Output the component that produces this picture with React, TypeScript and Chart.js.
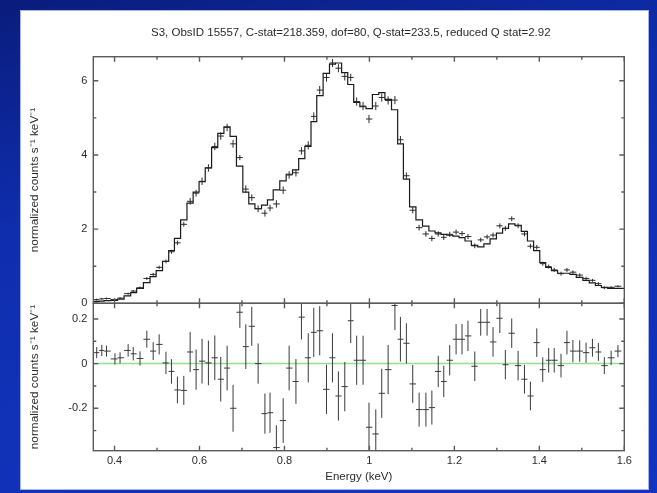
import React, { useEffect, useRef } from 'react';
import { Chart, registerables } from 'chart.js';

Chart.register(...registerables);

const TITLE = 'S3, ObsID 15557, C-stat=218.359, dof=80, Q-stat=233.5, reduced Q stat=2.92';
const Y_LABEL = 'normalized counts s\u207B\u00B9 keV\u207B\u00B9';
const X_LABEL = 'Energy (keV)';

// bin centres (keV)
const binEnergy = [
  0.358, 0.370, 0.381, 0.401, 0.413, 0.432, 0.444, 0.460, 0.476, 0.491,
  0.505, 0.521, 0.534, 0.548, 0.563, 0.578, 0.592, 0.606, 0.621, 0.636,
  0.650, 0.665, 0.679, 0.695, 0.709, 0.723, 0.738, 0.754, 0.766, 0.781,
  0.797, 0.811, 0.827, 0.840, 0.856, 0.869, 0.883, 0.899, 0.913, 0.927,
  0.942, 0.956, 0.970, 0.985, 0.999, 1.015, 1.029, 1.044, 1.060, 1.073,
  1.087, 1.102, 1.117, 1.133, 1.147, 1.162, 1.175, 1.189, 1.204, 1.218,
  1.232, 1.248, 1.262, 1.277, 1.291, 1.307, 1.320, 1.335, 1.350, 1.365,
  1.379, 1.394, 1.408, 1.422, 1.435, 1.451, 1.465, 1.479, 1.495, 1.510,
  1.525, 1.539, 1.553, 1.569, 1.585,
];

// folded model (step histogram)
const modelCounts = [
  0.05, 0.06, 0.07, 0.08, 0.11, 0.20, 0.29, 0.40, 0.56, 0.72,
  0.88, 1.13, 1.42, 1.75, 2.25, 2.70, 3.00, 3.28, 3.65, 4.20,
  4.58, 4.76, 4.50, 3.70, 3.00, 2.68, 2.55, 2.65, 2.79, 3.06,
  3.30, 3.48, 3.60, 3.90, 4.23, 4.90, 5.60, 6.20, 6.45, 6.48,
  6.22, 5.90, 5.42, 5.30, 5.25, 5.63, 5.68, 5.50, 5.22, 4.30,
  3.35, 2.60, 2.25, 2.08, 1.95, 1.90, 1.86, 1.84, 1.81, 1.77,
  1.68, 1.56, 1.52, 1.60, 1.74, 1.89, 2.02, 2.14, 2.10, 1.94,
  1.68, 1.42, 1.10, 0.97, 0.88, 0.81, 0.81, 0.78, 0.70, 0.62,
  0.55, 0.48, 0.43, 0.40, 0.40,
];

// observed data points
const dataCounts = [
  0.10, 0.12, 0.13, 0.10, 0.14, 0.26, 0.33, 0.42, 0.67, 0.78,
  0.97, 1.13, 1.39, 1.63, 2.13, 2.75, 2.97, 3.29, 3.65, 4.23,
  4.51, 4.74, 4.30, 3.93, 3.08, 2.85, 2.55, 2.43, 2.57, 2.68,
  3.05, 3.46, 3.52, 4.11, 4.26, 5.04, 5.75, 6.09, 6.48, 6.34,
  6.12, 6.09, 5.44, 5.32, 4.97, 5.32, 5.55, 5.47, 5.48, 4.41,
  3.44, 2.51, 2.04, 1.87, 1.75, 1.87, 1.78, 1.86, 1.92, 1.88,
  1.80, 1.55, 1.71, 1.79, 1.84, 2.09, 2.02, 2.28, 2.09, 1.87,
  1.54, 1.51, 1.07, 0.99, 0.90, 0.80, 0.90, 0.84, 0.76, 0.67,
  0.62, 0.53, 0.42, 0.43, 0.46,
];

// residuals (data - model)
const residuals = [
  0.049, 0.059, 0.056, 0.021, 0.026, 0.059, 0.044, 0.023, 0.109, 0.056,
  0.086, 0.003, -0.035, -0.118, -0.120, 0.052, -0.027, 0.011, 0.003, 0.026,
  -0.070, -0.020, -0.200, 0.230, 0.076, 0.167, 0.000, -0.224, -0.220, -0.376,
  -0.255, -0.020, -0.080, 0.208, 0.026, 0.140, 0.147, -0.115, 0.026, -0.145,
  -0.103, 0.192, 0.015, 0.015, -0.285, -0.315, -0.133, -0.027, 0.260, 0.109,
  0.091, -0.091, -0.206, -0.206, -0.197, -0.035, -0.080, 0.015, 0.109, 0.109,
  0.124, -0.012, 0.185, 0.185, 0.097, 0.203, -0.005, 0.136, -0.009, -0.070,
  -0.145, 0.094, -0.027, 0.015, 0.015, -0.009, 0.094, 0.056, 0.056, 0.049,
  0.071, 0.052, -0.009, 0.026, 0.056,
];

// 1-sigma errors
const errors = [
  0.025, 0.025, 0.025, 0.025, 0.025, 0.028, 0.030, 0.032, 0.038, 0.040,
  0.045, 0.050, 0.055, 0.060, 0.065, 0.090, 0.090, 0.100, 0.100, 0.100,
  0.100, 0.100, 0.105, 0.070, 0.100, 0.087, 0.090, 0.090, 0.090, 0.100,
  0.100, 0.100, 0.100, 0.100, 0.110, 0.110, 0.110, 0.110, 0.110, 0.110,
  0.110, 0.100, 0.110, 0.110, 0.110, 0.110, 0.110, 0.110, 0.110, 0.100,
  0.090, 0.085, 0.076, 0.076, 0.076, 0.070, 0.070, 0.068, 0.068, 0.068,
  0.068, 0.066, 0.060, 0.060, 0.066, 0.066, 0.066, 0.066, 0.066, 0.064,
  0.064, 0.064, 0.055, 0.055, 0.055, 0.053, 0.053, 0.050, 0.048, 0.045,
  0.040, 0.040, 0.038, 0.032, 0.027,
];

const xRange = [0.35, 1.6];
const specRange = [0, 6.65];
const resRange = [-0.39, 0.27];
const xTicks = [0.4, 0.6, 0.8, 1.0, 1.2, 1.4, 1.6];
const xMinorTicks = [0.5, 0.7, 0.9, 1.1, 1.3, 1.5];
const specTicks = [0, 2, 4, 6];
const specMinorTicks = [1, 3, 5];
const resTicks = [-0.2, 0, 0.2];
const resMinorTicks = [-0.3, -0.1, 0.1];

const FONT = "'Liberation Sans', Arial, sans-serif";
const TEXT = '#2b2b2b';
const FRAME = '#5a5a5a';

function crossSegments(xs: number[], ys: number[], errs: number[]) {
  const pts: { x: number; y: number | null }[] = [];
  const n = xs.length;
  for (let i = 0; i < n; i++) {
    const lo = i > 0 ? (xs[i] + xs[i - 1]) / 2 : xs[i] - (xs[i + 1] - xs[i]) / 2;
    const hi = i < n - 1 ? (xs[i] + xs[i + 1]) / 2 : xs[i] + (xs[i] - xs[i - 1]) / 2;
    pts.push({ x: xs[i], y: ys[i] - errs[i] });
    pts.push({ x: xs[i], y: ys[i] + errs[i] });
    pts.push({ x: xs[i], y: null });
    pts.push({ x: lo, y: ys[i] });
    pts.push({ x: hi, y: ys[i] });
    pts.push({ x: hi, y: null });
  }
  return pts;
}

const panelPlugin = {
  id: 'panels',
  beforeDatasetDraw(chart: any, args: any) {
    const meta = chart.getDatasetMeta(args.index);
    const ys = chart.scales[meta.yAxisID];
    const { left, right } = chart.chartArea;
    const ctx = chart.ctx;
    ctx.save();
    ctx.beginPath();
    ctx.rect(left, ys.top, right - left, ys.bottom - ys.top);
    ctx.clip();
  },
  afterDatasetDraw(chart: any) {
    chart.ctx.restore();
  },
  afterDraw(chart: any) {
    const ctx = chart.ctx;
    const xs = chart.scales.x;
    const panels: [string, number[], number[]][] = [
      ['ySpec', specTicks, specMinorTicks],
      ['yRes', resTicks, resMinorTicks],
    ];
    for (const [id, major, minor] of panels) {
      const ys = chart.scales[id];
      const l = xs.left, r = xs.right, t = ys.top, b = ys.bottom;
      ctx.save();
      ctx.strokeStyle = FRAME;
      ctx.lineWidth = 1.4;
      ctx.strokeRect(l, t, r - l, b - t);
      ctx.beginPath();
      const xt = (vals: number[], len: number) => {
        for (const v of vals) {
          const p = xs.getPixelForValue(v);
          ctx.moveTo(p, b); ctx.lineTo(p, b - len);
          ctx.moveTo(p, t); ctx.lineTo(p, t + len);
        }
      };
      const yt = (vals: number[], len: number) => {
        for (const v of vals) {
          const p = ys.getPixelForValue(v);
          ctx.moveTo(l, p); ctx.lineTo(l + len, p);
          ctx.moveTo(r, p); ctx.lineTo(r - len, p);
        }
      };
      xt(xTicks, 5); xt(xMinorTicks, 3);
      yt(major, 5); yt(minor, 3);
      ctx.stroke();
      ctx.restore();
    }
    ctx.save();
    ctx.font = `11.5px ${FONT}`;
    ctx.fillStyle = TEXT;
    ctx.textAlign = 'center';
    ctx.textBaseline = 'middle';
    ctx.fillText(TITLE, (xs.left + xs.right) / 2 - 8, 22);
    ctx.restore();
  },
};

export default function App() {
  const ref = useRef<HTMLCanvasElement>(null);

  useEffect(() => {
    if (!ref.current) return;
    const modelData = [
      { x: xRange[0], y: modelCounts[0] },
      ...binEnergy.map((e, i) => ({ x: e, y: modelCounts[i] })),
      { x: xRange[1], y: modelCounts[modelCounts.length - 1] },
    ];
    const fixTicks = (vals: number[]) => (s: any) => {
      s.ticks = vals.map((v) => ({ value: v }));
    };
    const yTitle = {
      display: true,
      text: Y_LABEL,
      color: TEXT,
      font: { family: FONT, size: 11.8 },
      padding: { top: 7, bottom: 0 },
    };
    const chart = new Chart(ref.current, {
      type: 'line',
      data: {
        datasets: [
          {
            data: crossSegments(binEnergy, residuals, errors) as any,
            yAxisID: 'yRes',
            borderColor: '#3a3a3a',
            borderWidth: 1,
            pointRadius: 0,
            spanGaps: false,
            order: 1,
          },
          {
            data: [{ x: xRange[0], y: 0 }, { x: xRange[1], y: 0 }],
            yAxisID: 'yRes',
            borderColor: '#8fe08f',
            borderWidth: 1.5,
            pointRadius: 0,
            order: 5,
          },
          {
            data: crossSegments(binEnergy, dataCounts, errors) as any,
            yAxisID: 'ySpec',
            borderColor: '#2a2a2a',
            borderWidth: 1,
            pointRadius: 0,
            spanGaps: false,
            order: 1,
          },
          {
            data: modelData,
            yAxisID: 'ySpec',
            stepped: 'middle',
            borderColor: '#1a1a1a',
            borderWidth: 1.2,
            pointRadius: 0,
            order: 2,
          },
        ],
      },
      options: {
        animation: false,
        responsive: false,
        devicePixelRatio: 1,
        events: [],
        layout: { padding: { left: 0, right: 23.7, top: 45.7, bottom: 0 } },
        plugins: { legend: { display: false }, tooltip: { enabled: false }, title: { display: false } },
        scales: {
          x: {
            type: 'linear',
            min: xRange[0],
            max: xRange[1],
            afterBuildTicks: fixTicks(xTicks),
            afterFit: (s: any) => { s.height = 38.3; },
            grid: { display: false, drawTicks: false },
            border: { display: false },
            ticks: {
              padding: 4,
              maxRotation: 0,
              autoSkip: false,
              color: TEXT,
              font: { family: FONT, size: 11 },
              callback: (v: any) => String(Number(v)),
            },
            title: {
              display: true,
              text: X_LABEL,
              color: TEXT,
              font: { family: FONT, size: 11.5 },
              padding: { top: 0, bottom: 5 },
            },
          },
          yRes: {
            type: 'linear',
            position: 'left',
            stack: 'panels',
            stackWeight: 147.4,
            weight: 0,
            min: resRange[0],
            max: resRange[1],
            afterBuildTicks: fixTicks(resTicks),
            afterFit: (s: any) => { s.width = 72.3; },
            grid: { display: false, drawTicks: false },
            border: { display: false },
            ticks: {
              padding: 6,
              color: TEXT,
              font: { family: FONT, size: 11 },
              callback: (v: any) => String(Number(v)),
            },
            title: yTitle,
          },
          ySpec: {
            type: 'linear',
            position: 'left',
            stack: 'panels',
            stackWeight: 246.6,
            weight: 1,
            min: specRange[0],
            max: specRange[1],
            afterBuildTicks: fixTicks(specTicks),
            afterFit: (s: any) => { s.width = 72.3; },
            grid: { display: false, drawTicks: false },
            border: { display: false },
            ticks: {
              padding: 6,
              color: TEXT,
              font: { family: FONT, size: 11 },
              callback: (v: any) => String(Number(v)),
            },
            title: yTitle,
          },
        },
      } as any,
      plugins: [panelPlugin],
    });
    return () => chart.destroy();
  }, []);

  return (
    <div
      style={{
        position: 'fixed',
        left: 0,
        top: 0,
        width: 657,
        height: 493,
        overflow: 'hidden',
        background: 'linear-gradient(165deg, #0a1c7c 0%, #0f2eae 35%, #1334c0 100%)',
      }}
    >
      <div
        style={{
          position: 'absolute',
          left: 21,
          top: 11,
          width: 627,
          height: 478,
          background: '#ffffff',
          boxShadow: '0 0 0 1px #a8b2ee',
        }}
      >
        <canvas ref={ref} width={627} height={478} style={{ display: 'block', width: 627, height: 478 }} />
      </div>
    </div>
  );
}
